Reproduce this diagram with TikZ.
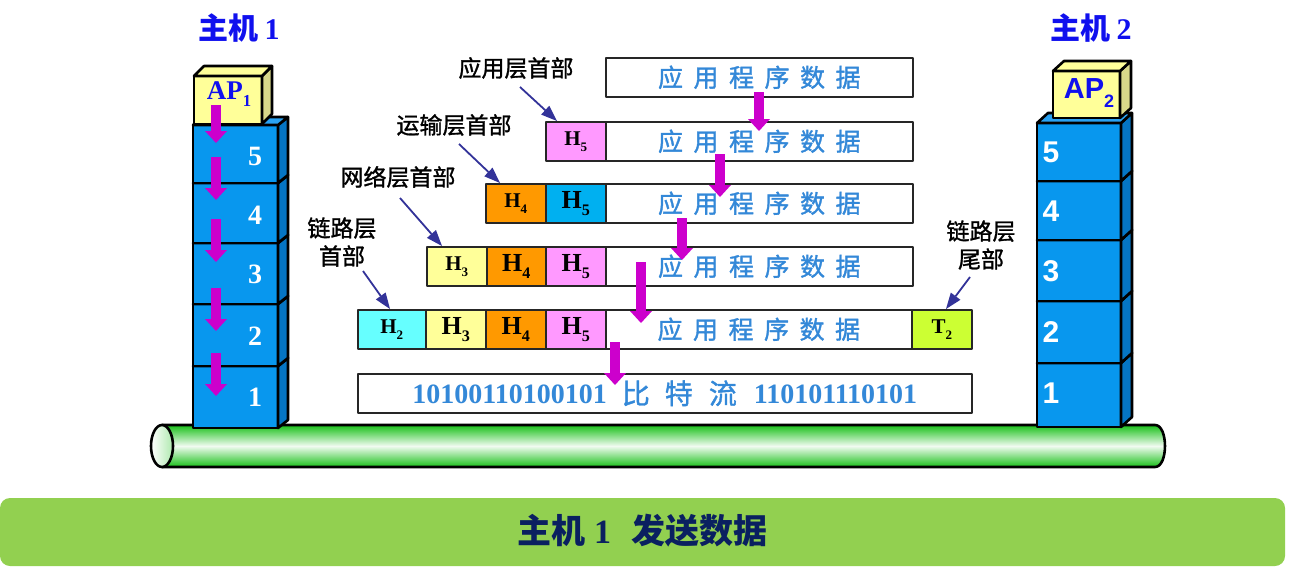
\documentclass[tikz,border=0pt]{standalone}
\usepackage{fontspec}
\usepackage{graphicx}
\setmainfont{Liberation Serif}
\newfontfamily\cjk{Noto Sans CJK SC}
\newfontfamily\cjkm[FakeBold=1.3]{Noto Sans CJK SC}
\newfontfamily\arial{Liberation Sans}
\usetikzlibrary{arrows.meta}
\definecolor{stackblue}{HTML}{0897EE}
\definecolor{stackside}{HTML}{0575C4}
\definecolor{stacktop}{HTML}{2AA2F2}
\definecolor{apyellow}{HTML}{FFFF99}
\definecolor{apside}{HTML}{D8D88A}
\definecolor{titleblue}{HTML}{1010EE}
\definecolor{pinkH}{HTML}{FF99FF}
\definecolor{orangeH}{HTML}{FF9900}
\definecolor{blueH}{HTML}{00B0F0}
\definecolor{yellowH}{HTML}{FFFF99}
\definecolor{cyanH}{HTML}{66FFFF}
\definecolor{greenT}{HTML}{CCFF33}
\definecolor{datablue}{HTML}{3388D8}
\definecolor{mag}{HTML}{CC00CC}
\definecolor{lblue}{HTML}{333399}
\definecolor{pipegreen}{HTML}{18C018}
\definecolor{banner}{HTML}{92D050}
\definecolor{navy}{HTML}{0A2060}
\newcommand\fs[1]{\fontsize{#1}{#1}\selectfont}
\newcommand\HH[3]{{\fs{#3}\bfseries #1\raisebox{-0.28em}{\scalebox{0.62}{#2}}}}
\newcommand\datatext{{\cjkm\fs{25}应\kern10.5pt 用\kern10.5pt 程\kern10.5pt 序\kern10.5pt 数\kern10.5pt 据}}
% x1 y1(top) x2 y2(bottom) dx dy front side top
\newcommand\slab[9]{%
  \filldraw[fill=#7] (#1,#2) rectangle (#3,#4);
  \filldraw[fill=#8] (#3,#2) -- ({#3+#5},{#2-#6}) -- ({#3+#5},{#4-#6}) -- (#3,#4) -- cycle;
  \filldraw[fill=#9] (#1,#2) -- ({#1+#5},{#2-#6}) -- ({#3+#5},{#2-#6}) -- (#3,#2) -- cycle;
}
\begin{document}
\begin{tikzpicture}[x=1pt,y=-1pt,line join=round,
  stk/.style={line width=2.6pt},
  box/.style={draw=black!85, line width=1.6pt, anchor=north west, inner sep=0pt, minimum height=39pt},
  databox/.style={box, fill=white, text=datablue, minimum width=307pt},
  lab/.style={font=\cjkm\fontsize{23}{28}\selectfont, inner sep=0pt, align=center},
  lbl/.style={draw=lblue, line width=1.8pt, -{Triangle[length=16pt,width=12pt,line width=0pt]}},
  fat/.style={draw=mag, line width=10pt, -{Triangle[length=12pt,width=22pt,line width=0pt]}},
  num1/.style={font=\fs{28}\bfseries, text=white, inner sep=0pt},
  num2/.style={font=\arial\fs{30}\bfseries, text=white, inner sep=0pt},
  title/.style={text=titleblue, inner sep=0pt}]
\useasboundingbox (0,0) rectangle (1291,573);

% banner
\fill[banner, rounded corners=10pt] (0,498) rectangle (1285,566);
\node[text=navy, inner sep=0pt] (cap) at (642,531) {\fs{34}{\cjk\bfseries 主机}\kern9pt\textbf{1}\kern20pt{\cjk\bfseries 发送数据}};

% pipe
\shade[top color=pipegreen, bottom color=pipegreen, middle color=pipegreen!6]
  (162,425) -- (1155,425) .. controls (1168.3,425) and (1168.3,467) .. (1155,467) -- (162,467) -- cycle;
\draw[line width=2.6pt]
  (162,425) -- (1155,425) .. controls (1168.3,425) and (1168.3,467) .. (1155,467) -- (162,467) -- cycle;
\shade[left color=white, right color=pipegreen!35] (162,446) ellipse [x radius=11, y radius=21];
\draw[line width=2.6pt] (162,446) ellipse [x radius=11, y radius=21];

% host 1 stack
\begin{scope}[stk]
\slab{193}{366}{278}{428}{10}{8}{stackblue}{stackside}{stacktop}
\slab{193}{304}{278}{366}{10}{8}{stackblue}{stackside}{stacktop}
\slab{193}{243}{278}{304}{10}{8}{stackblue}{stackside}{stacktop}
\slab{193}{183}{278}{243}{10}{8}{stackblue}{stackside}{stacktop}
\slab{193}{125}{278}{183}{10}{8}{stackblue}{stackside}{stacktop}
\slab{194}{76}{262}{124}{10}{10}{apyellow}{apside}{apyellow}
% host 2 stack
\slab{1037}{363}{1121}{427}{11}{10}{stackblue}{stackside}{stacktop}
\slab{1037}{301}{1121}{363}{11}{10}{stackblue}{stackside}{stacktop}
\slab{1037}{240}{1121}{301}{11}{10}{stackblue}{stackside}{stacktop}
\slab{1037}{181}{1121}{240}{11}{10}{stackblue}{stackside}{stacktop}
\slab{1037}{123}{1121}{181}{11}{10}{stackblue}{stackside}{stacktop}
\slab{1053}{71}{1120}{118}{11}{10}{apyellow}{apside}{apyellow}
\end{scope}

% titles
\node[title] (t1) at (239,28) {\fs{30}{\cjk\bfseries 主机}\kern6pt\textbf{1}};
\node[title] (t2) at (1091,28) {\fs{30}{\cjk\bfseries 主机}\kern6pt\textbf{2}};

% AP labels
\node[title] (ap1) at (229,94) {\HH{AP}{1}{27}};
\node[title, font=\arial] (ap2) at (1089,93) {\fs{29}\bfseries AP\raisebox{-0.28em}{\scalebox{0.62}{2}}};

% layer numbers host 1
\node[num1] (n15) at (255,156) {5};
\node[num1] (n14) at (255,215) {4};
\node[num1] (n13) at (255,274) {3};
\node[num1] (n12) at (255,336) {2};
\node[num1] (n11) at (255,397) {1};
% layer numbers host 2
\node[num2] (n25) at (1051,152) {5};
\node[num2] (n24) at (1051,211) {4};
\node[num2] (n23) at (1051,271) {3};
\node[num2] (n22) at (1051,332) {2};
\node[num2] (n21) at (1051,393) {1};

% host 1 arrows
\foreach \a/\b [count=\i] in {105/143,157/200,219/262,288/331,353/396}{
  \coordinate (hs\i) at (216,\a); \coordinate (he\i) at (216,\b);
  \draw[fat] (hs\i) -- (he\i);
}

% rows
\node[databox] (d1) at (605,57) {\datatext};

\node[box, fill=pinkH, minimum width=60pt] (r2h5) at (545,121) {\HH{H}{5}{21}};
\node[databox] (d2) at (605,121) {\datatext};

\node[box, fill=orangeH, minimum width=60pt] (r3h4) at (485,183) {\HH{H}{4}{21}};
\node[box, fill=blueH, minimum width=60pt] (r3h5) at (545,183) {\HH{H}{5}{26}};
\node[databox] (d3) at (605,183) {\datatext};

\node[box, fill=yellowH, minimum width=60pt] (r4h3) at (426,246) {\HH{H}{3}{21}};
\node[box, fill=orangeH, minimum width=59pt] (r4h4) at (486,246) {\HH{H}{4}{26}};
\node[box, fill=pinkH, minimum width=60pt] (r4h5) at (545,246) {\HH{H}{5}{26}};
\node[databox] (d4) at (605,246) {\datatext};

\node[box, fill=cyanH, minimum width=68pt] (r5h2) at (357,309) {\HH{H}{2}{21}};
\node[box, fill=yellowH, minimum width=60pt] (r5h3) at (425,309) {\HH{H}{3}{26}};
\node[box, fill=orangeH, minimum width=60pt] (r5h4) at (485,309) {\HH{H}{4}{26}};
\node[box, fill=pinkH, minimum width=60pt] (r5h5) at (545,309) {\HH{H}{5}{26}};
\node[databox, minimum width=306pt] (d5) at (605,309) {\datatext};
\node[box, fill=greenT, minimum width=60pt] (r5t2) at (911,309) {\HH{T}{2}{21}};

\node[box, fill=white, minimum width=614pt, text=datablue] (bits) at (357,373)
  {\fs{28}\textbf{10100110100101}\kern15pt{\cjkm 比}\kern15pt{\cjkm 特}\kern16pt{\cjkm 流}\kern17pt\textbf{110101110101}};

% middle arrows
\foreach \x/\a/\b [count=\i] in {759/92/131,720/154/197,682/218/260,641/262/323,615/342/385}{
  \coordinate (ms\i) at (\x,\a); \coordinate (me\i) at (\x,\b);
  \draw[fat] (ms\i) -- (me\i);
}

% labels
\node[lab] (l5) at (516,68) {应用层首部};
\node[lab] (l4) at (454,125) {运输层首部};
\node[lab] (l3) at (398,177) {网络层首部};
\node[lab] (l2) at (342,242) {链路层\\首部};
\node[lab] (lt) at (981,245) {链路层\\尾部};

\coordinate (a5) at (520,87);
\coordinate (a4) at (459,144);
\coordinate (a3) at (400,198);
\coordinate (a2) at (363,271);
\coordinate (at) at (970,277);
\draw[lbl] (a5) -- ([xshift=12pt]r2h5.north west);
\draw[lbl] (a4) -- ([xshift=15pt]r3h4.north west);
\draw[lbl] (a3) -- ([xshift=16pt]r4h3.north west);
\draw[lbl] (a2) -- ([xshift=33pt]r5h2.north west);
\draw[lbl] (at) -- ([xshift=35pt]r5t2.north west);
\end{tikzpicture}
\end{document}
